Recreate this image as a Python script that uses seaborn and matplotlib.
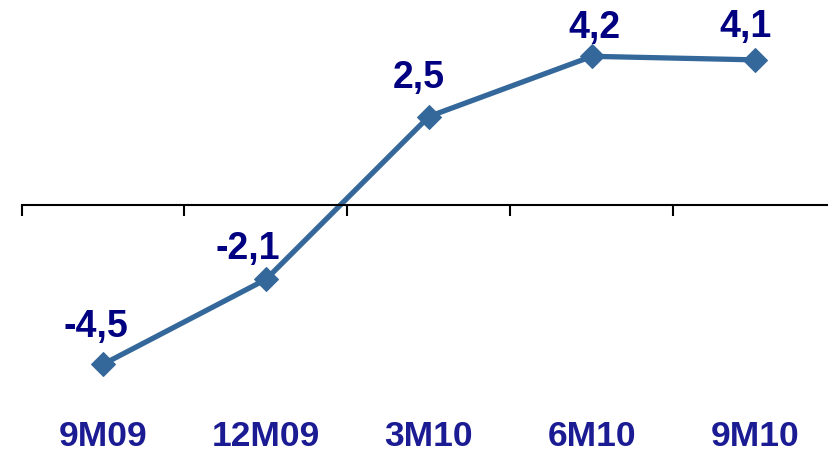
import numpy as np
import pandas as pd
import seaborn as sns
from matplotlib import pyplot as plt
from matplotlib import transforms

categories = ['9M09', '12M09', '3M10', '6M10', '9M10']
values = [-4.5, -2.1, 2.5, 4.2, 4.1]
value_labels = ['-4,5', '-2,1', '2,5', '4,2', '4,1']

# label nudges in pixels (x, y) relative to each point
label_dx = [-7, -18, -10, 2, -9]
label_dy = [37, 30, 38, 28, 33]

sns.set_theme(style='white')
plt.rcParams['font.family'] = ['Liberation Sans', 'DejaVu Sans']

df = pd.DataFrame({'pos': np.arange(len(categories)), 'value': values})

fig = plt.figure(figsize=(8.29, 4.51), dpi=100)
ax = fig.add_axes([0, 0, 1, 1])

sns.lineplot(data=df, x='pos', y='value', ax=ax, color='#35689A', linewidth=3.8,
             marker='D', markersize=12, markeredgecolor='#35689A')

for s in ['top', 'right', 'left']:
    ax.spines[s].set_visible(False)
ax.spines['bottom'].set_position(('data', 0))
ax.spines['bottom'].set_bounds(-0.5, 4.6)
ax.spines['bottom'].set_color('black')
ax.spines['bottom'].set_linewidth(1.5)
ax.set_xticks(np.arange(-0.5, len(categories), 1))
ax.set_xticklabels([])
ax.tick_params(axis='x', direction='out', length=8, width=1.5, color='black', bottom=True)
ax.set_yticks([])
ax.set_xlabel('')
ax.set_ylabel('')

# pixel mapping: category i centre at 103 + 163*i, zero line at y=205
ax.set_xlim((0 - 103) / 163, (829 - 103) / 163)
ax.set_ylim(-(451 - 205) / 35.4, 205 / 35.4)

# category labels along the bottom
for i, c in enumerate(categories):
    ax.text(i, 1 - 436 / 451, c, transform=ax.get_xaxis_transform(),
            ha='center', va='center', fontsize=25.5, fontweight='bold', color='#1B1B93')

# value labels above each point
for i, (v, lab) in enumerate(zip(values, value_labels)):
    off = transforms.offset_copy(ax.transData, fig=fig, x=label_dx[i], y=label_dy[i], units='dots')
    ax.text(i, v, lab, transform=off, ha='center', va='center',
            fontsize=27, fontweight='bold', color='#000080')

fig.savefig('out.png', dpi=100)
